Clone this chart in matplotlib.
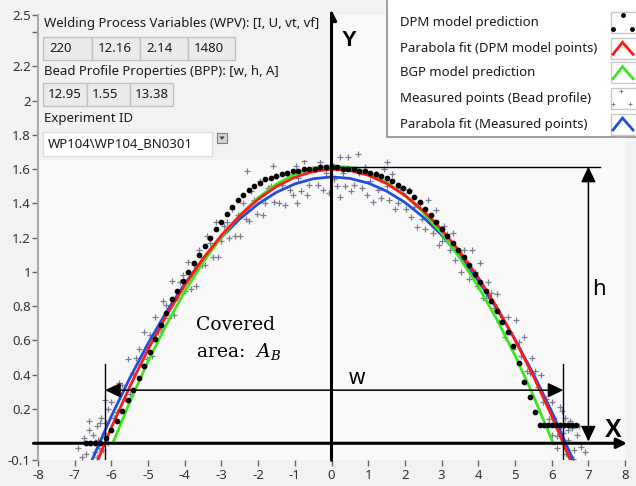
import numpy as np
import matplotlib.pyplot as plt
from matplotlib.patches import Rectangle, Polygon

plt.rcParams['font.family'] = ['Noto Sans', 'DejaVu Sans']
plt.rcParams['axes.unicode_minus'] = False
plt.rcParams['mathtext.fontset'] = 'dejavuserif'

# ---- data ----
# DPM model prediction (black dots)
dpm_x = [-6.70, -6.57, -6.44, -6.31,
         -6.15, -6.00, -5.85, -5.70, -5.55, -5.40, -5.25, -5.10, -4.95, -4.80,
         -4.65, -4.50, -4.35, -4.20, -4.05, -3.90, -3.75, -3.60, -3.45, -3.30,
         -3.15, -3.00, -2.85, -2.70, -2.55, -2.40, -2.25, -2.10, -1.95, -1.80,
         -1.65, -1.50, -1.35, -1.20, -1.05, -0.90, -0.75, -0.60, -0.45, -0.30,
         -0.15, 0.00, 0.15, 0.30, 0.45, 0.60, 0.75, 0.90, 1.05, 1.20,
         1.35, 1.50, 1.65, 1.80, 1.95, 2.10, 2.25, 2.40, 2.55, 2.70,
         2.85, 3.00, 3.15, 3.30, 3.45, 3.60, 3.75, 3.90, 4.05, 4.20,
         4.35, 4.50, 4.65, 4.80, 4.95, 5.10, 5.25, 5.40, 5.55,
         5.68, 5.79, 5.90, 6.01, 6.12, 6.23, 6.34, 6.45, 6.56, 6.67]
dpm_y = [0.00, 0.00, 0.00, 0.00,
         0.03, 0.08, 0.13, 0.19, 0.25, 0.31, 0.38, 0.45, 0.53, 0.61,
         0.69, 0.76, 0.84, 0.89, 0.95, 1.00, 1.05, 1.10, 1.15, 1.20,
         1.25, 1.29, 1.34, 1.38, 1.42, 1.45, 1.48, 1.50, 1.52, 1.54,
         1.55, 1.56, 1.57, 1.58, 1.59, 1.59, 1.60, 1.60, 1.60, 1.61,
         1.61, 1.61, 1.61, 1.60, 1.60, 1.60, 1.59, 1.59, 1.58, 1.57,
         1.56, 1.55, 1.53, 1.51, 1.49, 1.47, 1.44, 1.41, 1.37, 1.33,
         1.29, 1.25, 1.21, 1.17, 1.13, 1.09, 1.04, 0.99, 0.94, 0.89,
         0.83, 0.77, 0.71, 0.65, 0.57, 0.47, 0.36, 0.27, 0.18,
         0.105, 0.105, 0.105, 0.105, 0.105, 0.105, 0.105, 0.105, 0.105, 0.105]

# Parabola fit (DPM model points)
red_x = [-6.37, -6.0, -5.5, -5.0, -4.5, -4.0, -3.5, -3.0, -2.5, -2.0, -1.5, -1.0, -0.5, 0.0,
         0.5, 1.0, 1.5, 2.0, 2.5, 3.0, 3.5, 4.0, 4.5, 5.0, 5.5, 6.0, 6.51]
red_y = [-0.10, 0.091, 0.329, 0.547, 0.745, 0.921, 1.078, 1.214, 1.329, 1.424, 1.499, 1.553, 1.587, 1.600,
         1.592, 1.565, 1.516, 1.447, 1.358, 1.248, 1.118, 0.967, 0.796, 0.604, 0.392, 0.160, -0.10]

# BGP model prediction
green_x = [-5.96, -5.5, -5.0, -4.5, -4.0, -3.5, -3.0, -2.5, -2.0, -1.5, -1.0, -0.5, 0.0,
           0.5, 1.0, 1.5, 2.0, 2.5, 3.0, 3.5, 4.0, 4.5, 5.0, 5.5, 6.04]
green_y = [0.0, 0.239, 0.477, 0.692, 0.885, 1.056, 1.204, 1.330, 1.433, 1.513, 1.571, 1.607, 1.620,
           1.610, 1.579, 1.524, 1.447, 1.348, 1.226, 1.081, 0.914, 0.725, 0.513, 0.278, 0.0]

# Parabola fit (Measured points)
blue_x = [-6.53, -6.0, -5.5, -5.0, -4.5, -4.0, -3.5, -3.0, -2.5, -2.0, -1.5, -1.0, -0.5, 0.0,
          0.5, 1.0, 1.5, 2.0, 2.5, 3.0, 3.5, 4.0, 4.5, 5.0, 5.5, 6.0, 6.59]
blue_y = [-0.10, 0.157, 0.379, 0.582, 0.766, 0.931, 1.076, 1.202, 1.309, 1.397, 1.465, 1.514, 1.544, 1.555,
          1.546, 1.519, 1.472, 1.406, 1.320, 1.216, 1.092, 0.949, 0.787, 0.606, 0.405, 0.185, -0.10]

# Measured points (bead profile)
meas_x = [-6.45, -6.38, -6.30, -6.23, -6.15, -6.08, -6.00, -5.93, -5.85, -5.78,
          -5.70, -5.63, -5.55, -5.48, -5.40, -5.33, -5.25, -5.18, -5.10, -5.03,
          -4.95, -4.88, -4.80, -4.73, -4.65, -4.58, -4.50, -4.43, -4.35, -4.28,
          -4.20, -4.13, -4.05, -3.98, -3.90, -3.83, -3.75, -3.68, -3.60, -3.53,
          -3.45, -3.38, -3.30, -3.23, -3.15, -3.08, -3.00, -2.93, -2.85, -2.78,
          -2.70, -2.63, -2.55, -2.48, -2.40, -2.33, -2.25, -2.18, -2.10, -2.03,
          -1.95, -1.88, -1.80, -1.73, -1.65, -1.58, -1.50, -1.43, -1.35, -1.28,
          -1.20, -1.13, -1.05, -0.98, -0.90, -0.83, -0.75, -0.68, -0.60, -0.53,
          -0.45, -0.38, -0.30, -0.23, -0.15, -0.08, 0.00, 0.07, 0.15, 0.22,
          0.30, 0.37, 0.45, 0.52, 0.60, 0.67, 0.75, 0.82, 0.90, 0.97,
          1.05, 1.12, 1.20, 1.27, 1.35, 1.42, 1.50, 1.57, 1.65, 1.72,
          1.80, 1.87, 1.95, 2.02, 2.10, 2.17, 2.25, 2.32, 2.40, 2.47,
          2.55, 2.62, 2.70, 2.77, 2.85, 2.92, 3.00, 3.07, 3.15, 3.22,
          3.30, 3.37, 3.45, 3.52, 3.60, 3.67, 3.75, 3.82, 3.90, 3.97,
          4.05, 4.12, 4.20, 4.27, 4.35, 4.42, 4.50, 4.57, 4.65, 4.72,
          4.80, 4.87, 4.95, 5.02, 5.10, 5.17, 5.25, 5.32, 5.40, 5.47,
          5.55, 5.62, 5.70, 5.77, 5.85, 5.92, 6.00, 6.07, 6.15, 6.22,
          6.30, 6.37, 6.45, 6.52,
          -6.90, -6.80, -6.75, -6.70, -6.62, -6.60, -6.55, -6.50, -6.45, -6.40,
          -6.35, -6.33, -6.28, -6.20, -6.18, -6.10,
          6.00, 6.10, 6.15, 6.25, 6.28, 6.35, 6.40, 6.45, 6.50, 6.55,
          6.58, 6.62, 6.70, 6.75, 6.80, 6.90,
          -2.31, -1.60, -0.95, -0.78, -0.37, 0.23, 0.72, 1.50]
meas_y = [0.01, -0.08, 0.12, -0.04, 0.12, 0.00, 0.24, 0.15, 0.18, 0.35,
          0.34, 0.26, 0.49, 0.29, 0.41, 0.50, 0.55, 0.46, 0.65, 0.49,
          0.63, 0.51, 0.74, 0.65, 0.66, 0.83, 0.81, 0.73, 0.95, 0.75,
          0.85, 0.94, 0.98, 0.89, 1.06, 0.90, 1.04, 0.92, 1.13, 1.04,
          1.04, 1.21, 1.17, 1.09, 1.29, 1.09, 1.18, 1.27, 1.29, 1.20,
          1.37, 1.21, 1.33, 1.21, 1.40, 1.31, 1.30, 1.47, 1.42, 1.34,
          1.53, 1.33, 1.40, 1.49, 1.50, 1.41, 1.56, 1.40, 1.51, 1.39,
          1.57, 1.48, 1.45, 1.62, 1.55, 1.47, 1.65, 1.45, 1.51, 1.60,
          1.60, 1.51, 1.64, 1.48, 1.58, 1.46, 1.63, 1.54, 1.50, 1.67,
          1.58, 1.50, 1.67, 1.47, 1.51, 1.60, 1.58, 1.49, 1.61, 1.45,
          1.53, 1.41, 1.57, 1.48, 1.43, 1.60, 1.50, 1.42, 1.57, 1.37,
          1.40, 1.49, 1.46, 1.37, 1.48, 1.32, 1.38, 1.26, 1.40, 1.31,
          1.25, 1.42, 1.31, 1.23, 1.36, 1.16, 1.18, 1.27, 1.22, 1.13,
          1.23, 1.07, 1.12, 1.00, 1.13, 1.04, 0.96, 1.13, 1.00, 0.92,
          1.05, 0.85, 0.85, 0.94, 0.88, 0.79, 0.87, 0.71, 0.74, 0.62,
          0.74, 0.65, 0.55, 0.72, 0.59, 0.51, 0.62, 0.42, 0.41, 0.50,
          0.42, 0.33, 0.40, 0.24, 0.26, 0.14, 0.24, 0.15, 0.04, 0.21,
          0.06, -0.02, 0.08, -0.08,
          -0.03, -0.08, 0.03, -0.06, 0.08, 0.13, 0.00, 0.05, -0.05, 0.10,
          0.02, -0.03, 0.15, 0.06, 0.25, 0.20,
          0.05, 0.12, -0.03, 0.10, 0.19, 0.15, -0.06, 0.02, 0.13, 0.09,
          -0.09, -0.04, 0.05, 0.10, -0.02, -0.05,
          1.59, 1.62, 1.40, 1.68, 1.68, 1.44, 1.69, 1.64]

x_ticks = list(range(-8, 9))
y_ticks = [-0.1, 0, 0.2, 0.4, 0.6, 0.8, 1, 1.2, 1.4, 1.6, 1.8, 2, 2.2, 2.4, 2.5]
y_labels = ['-0.1', '', '0.2', '0.4', '0.6', '0.8', '1', '1.2', '1.4', '1.6', '1.8', '2', '2.2', '', '2.5']

wpv_title = 'Welding Process Variables (WPV): [I, U, vt, vf]'
wpv_values = ['220', '12.16', '2.14', '1480']
bpp_title = 'Bead Profile Properties (BPP): [w, h, A]'
bpp_values = ['12.95', '1.55', '13.38']
exp_title = 'Experiment ID'
exp_id = 'WP104\\WP104_BN0301'

legend_labels = ['DPM model prediction', 'Parabola fit (DPM model points)', 'BGP model prediction',
                 'Measured points (Bead profile)', 'Parabola fit (Measured points)']

# geometric markers of the sketch (bead width / height)
top_y = 1.615
h_x = 7.0
w_left, w_right, w_y = -6.17, 6.32, 0.31

RED, GREEN, BLUE, GREY = '#ff1a1a', '#3de61a', '#1f4fdc', '#7c7c96'
UI = 9.5  # front panel font size

# ---- figure ----
fig = plt.figure(figsize=(6.36, 4.86), dpi=100, facecolor='#f2f2f2')
ax = fig.add_axes([37.9 / 636, 25.6 / 486, 587.2 / 636, 445.4 / 486])
ax.set_facecolor('#f9f9f9')
ax.set_xlim(-8, 8)
ax.set_ylim(-0.1, 2.5)
for s in ['top', 'right', 'bottom']:
    ax.spines[s].set_visible(False)
ax.spines['left'].set_color('#aaaaaa')
ax.spines['left'].set_linewidth(1.5)
ax.set_xticks(x_ticks)
ax.set_xticklabels([str(t) for t in x_ticks])
ax.set_yticks(y_ticks)
ax.set_yticklabels(y_labels)
ax.tick_params(axis='both', colors='#666666', labelcolor='#333333', labelsize=9.5, length=4, width=1)
ax.tick_params(axis='x', pad=2.5)
ax.tick_params(axis='y', pad=1)

ax.scatter(meas_x, meas_y, marker='+', s=16, linewidths=0.9, color=GREY, zorder=2)
ax.plot(blue_x, blue_y, color=BLUE, lw=2, zorder=3)
ax.plot(green_x, green_y, color=GREEN, lw=2, zorder=3)
ax.plot(red_x, red_y, color=RED, lw=2, zorder=3.5)
ax.plot(dpm_x, dpm_y, 'o', color='black', ms=3.1, zorder=4)

# axes arrows
ax.annotate('', xy=(8.05, 0), xytext=(-8.12, 0), annotation_clip=False, zorder=5,
            arrowprops=dict(arrowstyle='-|>,head_length=0.6,head_width=0.3', lw=2.2, color='black',
                            shrinkA=0, shrinkB=0))
ax.annotate('', xy=(0, 2.53), xytext=(0, -0.1), annotation_clip=False, zorder=5,
            arrowprops=dict(arrowstyle='-|>,head_length=0.6,head_width=0.3', lw=2.2, color='black',
                            shrinkA=0, shrinkB=0))
ax.text(0.48, 2.35, 'Y', fontsize=16, fontweight='bold', family='Liberation Sans', ha='center', va='center')
ax.text(7.67, 0.08, 'X', fontsize=18, fontweight='bold', family='Liberation Sans', ha='center', va='center')

# height marker
ax.plot([0, 7.32], [top_y, top_y], color='black', lw=1, zorder=5, clip_on=False)
ax.annotate('', xy=(h_x, 0.01), xytext=(h_x, top_y), zorder=5,
            arrowprops=dict(arrowstyle='<|-|>,head_length=0.95,head_width=0.45', lw=1.1, color='black',
                            shrinkA=0, shrinkB=0))
ax.text(7.28, 0.90, 'h', fontsize=16, ha='center', va='center')

# width marker
ax.plot([w_left, w_left], [-0.1, 0.46], color='black', lw=1, zorder=5)
ax.plot([w_right, w_right], [-0.1, 0.46], color='black', lw=1, zorder=5)
ax.annotate('', xy=(w_left, w_y), xytext=(w_right, w_y), zorder=5,
            arrowprops=dict(arrowstyle='<|-|>,head_length=0.95,head_width=0.45', lw=1.1, color='black',
                            shrinkA=0, shrinkB=0))
ax.text(0.68, 0.38, 'w', fontsize=15, ha='center', va='center')
ax.text(-3.68, 0.61, 'Covered\narea:  $A_B$', fontsize=13.5, family='DejaVu Serif',
        ha='left', va='center', linespacing=1.45)

# ---- front panel overlay (pixel coordinates) ----
ov = fig.add_axes([0, 0, 1, 1], zorder=10)
ov.set_xlim(0, 636)
ov.set_ylim(486, 0)
ov.axis('off')

ov.add_patch(Rectangle((38.5, 8), 291, 152, fc='#f2f2f2', ec='none'))
ov.text(44, 23, wpv_title, fontsize=UI, va='center', color='#1a1a1a')
xs = 43
for val, w in zip(wpv_values, [49, 48, 48, 47]):
    ov.add_patch(Rectangle((xs, 37), w, 23, fc='#ebebeb', ec='#c2c2c2', lw=1))
    ov.text(xs + 6, 48.5, val, fontsize=UI, va='center', color='#1a1a1a')
    xs += w
ov.text(44, 72, bpp_title, fontsize=UI, va='center', color='#1a1a1a')
xs = 43
for val, w in zip(bpp_values, [44, 43, 43]):
    ov.add_patch(Rectangle((xs, 83), w, 23, fc='#ebebeb', ec='#c2c2c2', lw=1))
    ov.text(xs + 5, 94.5, val, fontsize=UI, va='center', color='#1a1a1a')
    xs += w
ov.text(44, 118, exp_title, fontsize=UI, va='center', color='#1a1a1a')
ov.add_patch(Rectangle((43, 132), 169, 24, fc='white', ec='#e0e0e0', lw=1))
ov.text(48, 144, exp_id, fontsize=UI, va='center', color='#1a1a1a')
ov.add_patch(Rectangle((217, 133), 10, 10, fc='#d4d4d4', ec='#808080', lw=0.8))
ov.add_patch(Polygon([[219.5, 136.5], [224.5, 136.5], [222, 140]], closed=True, fc='#404040', ec='none'))

# legend
ov.add_patch(Rectangle((387, -3), 252, 140, fc='white', ec='#8c8c8c', lw=1.2))
rows = [22.7, 48.3, 72.7, 98.3, 124]
for lab, yy in zip(legend_labels, rows):
    ov.text(400, yy, lab, fontsize=UI, va='center', color='#1a1a1a')
    ov.add_patch(Rectangle((611, yy - 10.5), 26, 21, fc='white', ec='#c8c8c8', lw=1))
ov.plot([623, 613, 632], [rows[0] - 8, rows[0] + 6, rows[0] + 6], 'o', color='black', ms=2.5)
for yy, col in zip([rows[1], rows[2], rows[4]], [RED, GREEN, BLUE]):
    ov.plot([613, 622.5, 633], [yy + 6, yy - 6, yy + 6], color=col, lw=2, solid_joinstyle='miter')
ov.scatter([621, 613, 630], [rows[3] - 7, rows[3] + 6, rows[3] + 6], marker='+', s=8,
           linewidths=0.7, color=GREY)

fig.savefig('out.png', dpi=100, facecolor=fig.get_facecolor())
